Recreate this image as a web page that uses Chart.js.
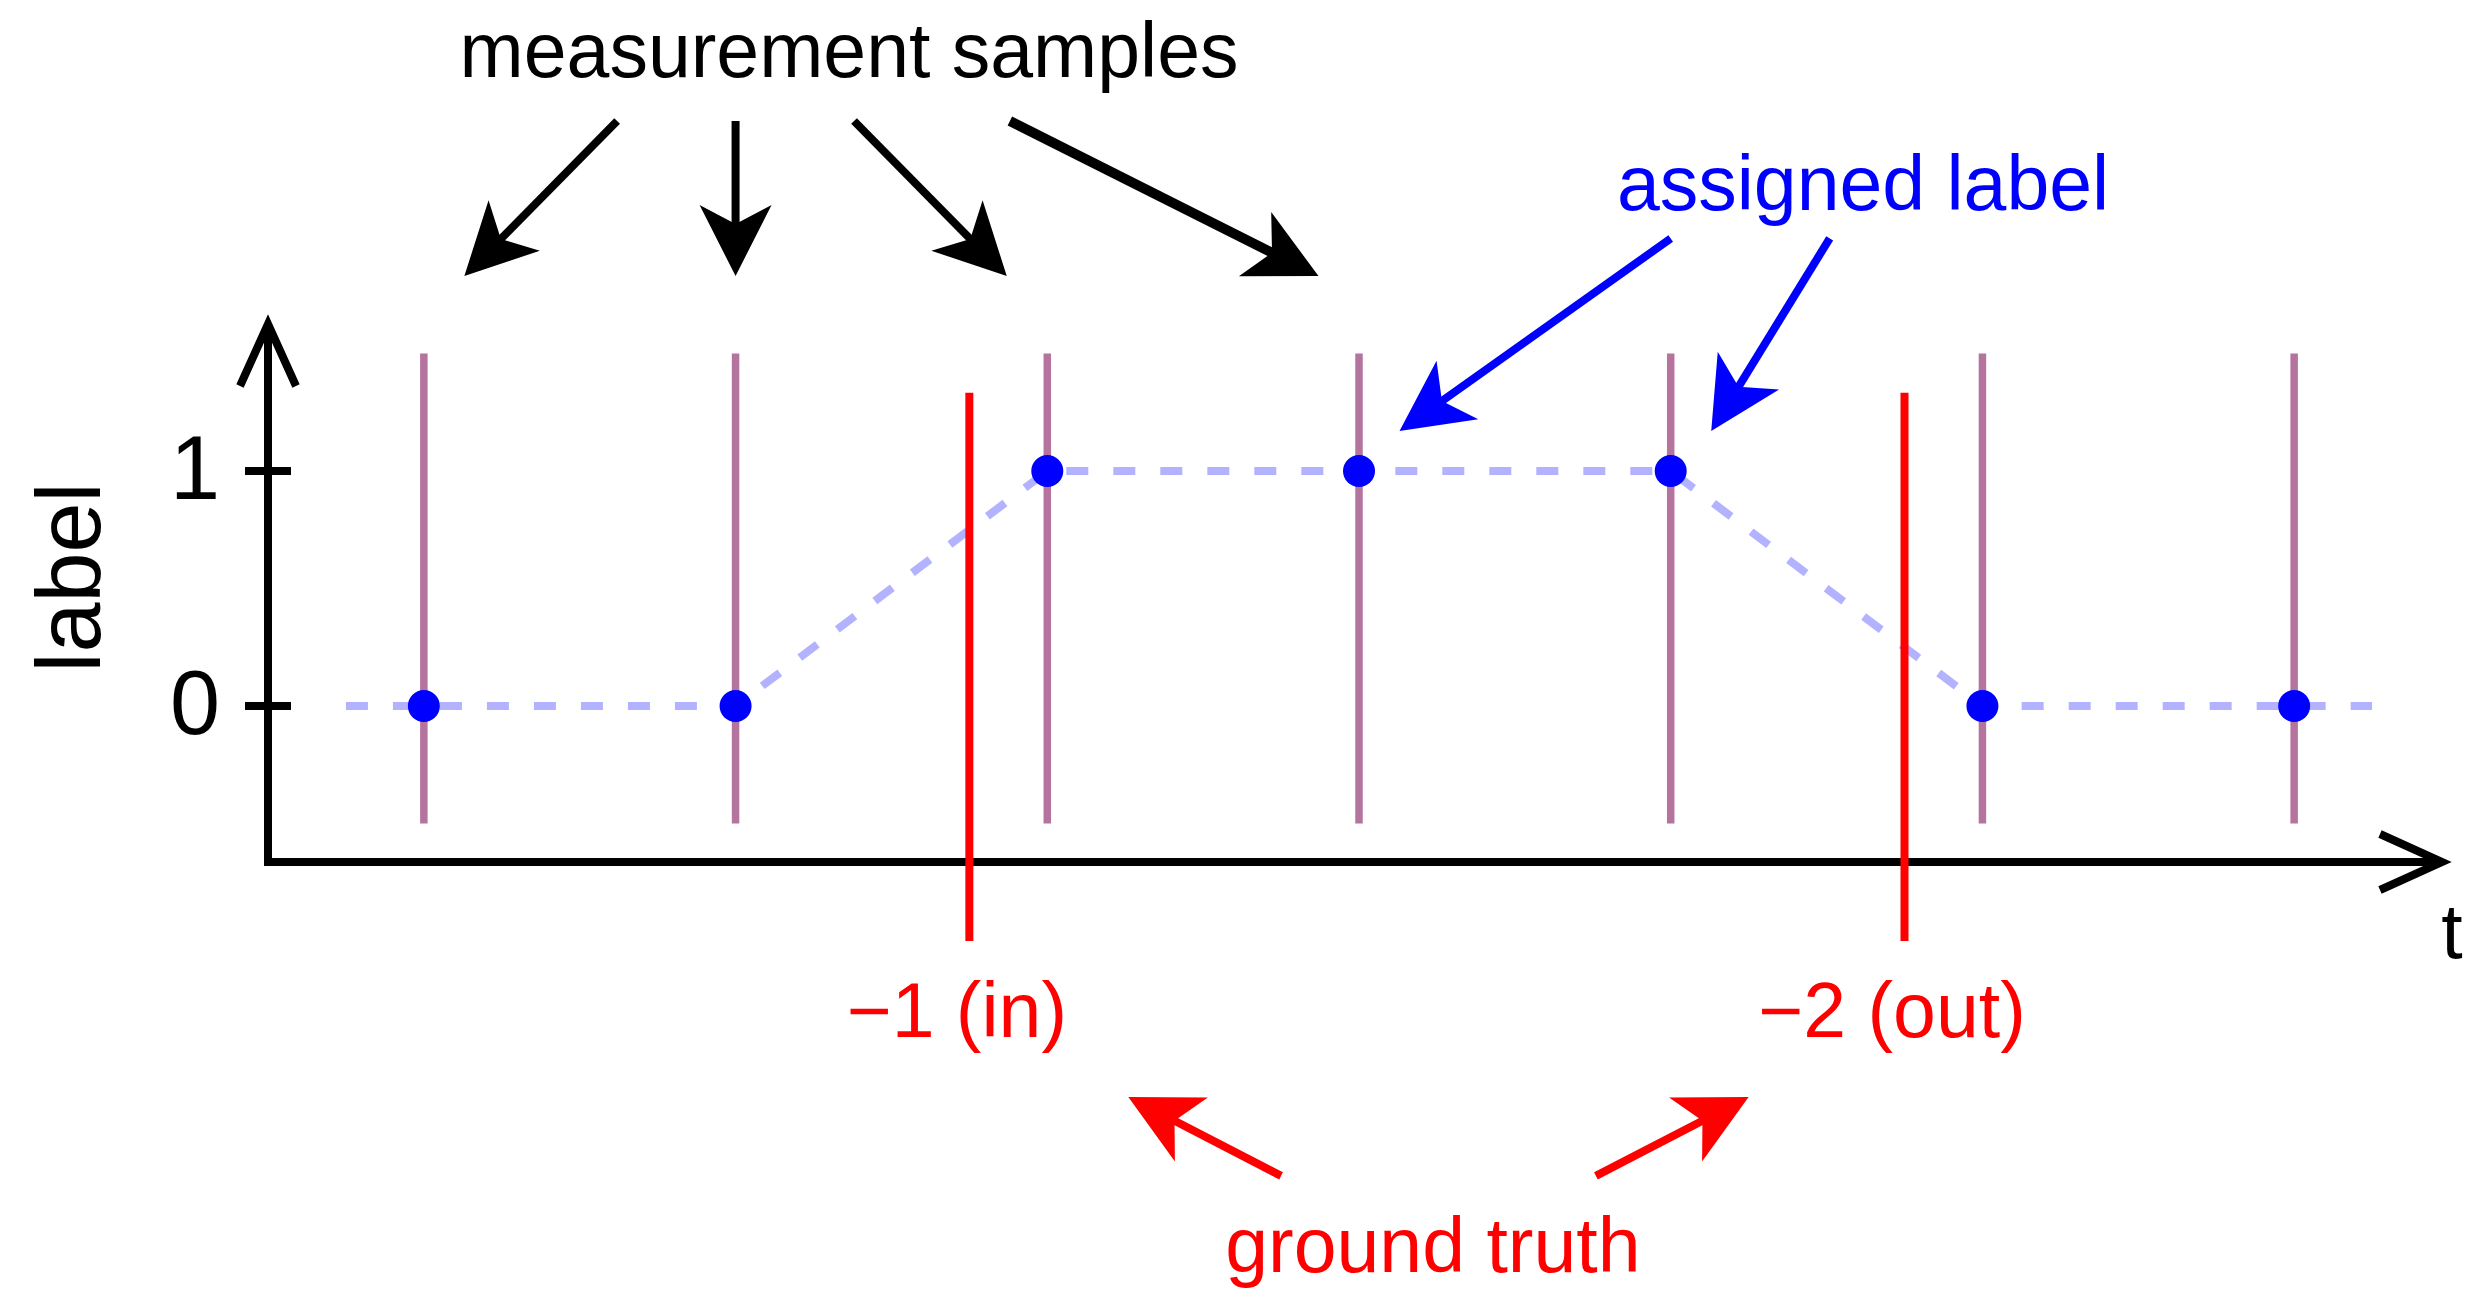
<!DOCTYPE html>
<html>
<head>
<meta charset="utf-8">
<script src="https://cdn.jsdelivr.net/npm/chart.js@4.4.1/dist/chart.umd.min.js"></script>
<style>
html, body { margin:0; padding:0; background:#fff; overflow:hidden; }
canvas { display:block; }
</style>
</head>
<body>
<canvas id="labelChart" width="2487" height="1312"></canvas>
<script>
// measurement samples and the label assigned to each of them
const sampleTimes = [1, 2, 3, 4, 5, 6, 7];
const assignedLabels = [0, 0, 1, 1, 1, 0, 0];

// ground truth events
const truthTimes = [2.75, 5.75];
const truthNames = ["\u22121 (in)", "\u22122 (out)"];

// y axis
const tickValues = [0, 1];
const tickLabels = ["0", "1"];

const FONT = '"Liberation Sans", Arial, Helvetica, sans-serif';
const STEM = [-0.5, 1.5];
const TRUTH_SPAN = [-1, 1.333];
const LINE_PAD = 0.25;

// annotation arrows, in axis units [t, label]
const arrows = [
  {from:[1.62, 2.49], to:[1.13, 1.83], color:"#000", width:8},
  {from:[2.00, 2.49], to:[2.00, 1.83], color:"#000", width:8},
  {from:[2.38, 2.49], to:[2.87, 1.83], color:"#000", width:8},
  {from:[2.88, 2.49], to:[3.87, 1.83], color:"#000", width:10},
  {from:[5.00, 1.99], to:[4.13, 1.17], color:"#0000ff", width:8},
  {from:[5.51, 1.99], to:[5.13, 1.17], color:"#0000ff", width:8},
  {from:[3.75, -2.00], to:[3.26, -1.664], color:"#ff0000", width:8},
  {from:[4.76, -2.00], to:[5.25, -1.664], color:"#ff0000", width:8}
];

const notes = [
  {text:"measurement samples", at:[2.364, 2.677], color:"#000"},
  {text:"assigned label", at:[5.617, 2.111], color:"#0000ff"},
  {text:"ground truth", at:[4.237, -2.409], color:"#ff0000"}
];


function stemData(){
  const out = [];
  sampleTimes.forEach(t => {
    out.push({x:t, y:STEM[0]}, {x:t, y:STEM[1]}, {x:t, y:null});
  });
  return out;
}

function truthData(){
  const out = [];
  truthTimes.forEach(t => {
    out.push({x:t, y:TRUTH_SPAN[0]}, {x:t, y:TRUTH_SPAN[1]}, {x:t, y:null});
  });
  return out;
}

function labelLineData(){
  const pts = sampleTimes.map((t, i) => ({x:t, y:assignedLabels[i]}));
  pts.unshift({x:sampleTimes[0] - LINE_PAD, y:assignedLabels[0]});
  pts.push({x:sampleTimes[sampleTimes.length-1] + LINE_PAD, y:assignedLabels[assignedLabels.length-1]});
  return pts;
}


function toPx(chart, p){
  return [chart.scales.x.getPixelForValue(p[0]), chart.scales.y.getPixelForValue(p[1])];
}

function drawArrow(ctx, from, to, color, width){
  const dx = to[0]-from[0], dy = to[1]-from[1];
  const len = Math.hypot(dx, dy);
  const ux = dx/len, uy = dy/len;
  const px = -uy, py = ux;
  const headLen = 71, headHalf = 36, notch = 52;
  ctx.save();
  ctx.strokeStyle = color;
  ctx.fillStyle = color;
  ctx.lineWidth = width;
  ctx.lineCap = "butt";
  ctx.beginPath();
  ctx.moveTo(from[0], from[1]);
  ctx.lineTo(to[0]-ux*(notch-12), to[1]-uy*(notch-12));
  ctx.stroke();
  ctx.beginPath();
  ctx.moveTo(to[0], to[1]);
  ctx.lineTo(to[0]-ux*headLen+px*headHalf, to[1]-uy*headLen+py*headHalf);
  ctx.lineTo(to[0]-ux*notch, to[1]-uy*notch);
  ctx.lineTo(to[0]-ux*headLen-px*headHalf, to[1]-uy*headLen-py*headHalf);
  ctx.closePath();
  ctx.fill();
  ctx.restore();
}


const axesPlugin = {
  id:"axes",
  beforeDatasetsDraw(chart){
    const ctx = chart.ctx;
    const {left, right, top, bottom} = chart.chartArea;
    const yScale = chart.scales.y;
    ctx.save();
    ctx.strokeStyle = "#000";
    ctx.lineWidth = 8;
    ctx.lineJoin = "miter";
    ctx.lineCap = "butt";

    ctx.beginPath();
    ctx.moveTo(left, top+8);
    ctx.lineTo(left, bottom);
    ctx.lineTo(right-8, bottom);
    ctx.stroke();

    // open arrow heads
    ctx.beginPath();
    ctx.moveTo(left-28, top+70);
    ctx.lineTo(left, top+8);
    ctx.lineTo(left+28, top+70);
    ctx.stroke();
    ctx.beginPath();
    ctx.moveTo(right-70, bottom-28);
    ctx.lineTo(right-8, bottom);
    ctx.lineTo(right-70, bottom+28);
    ctx.stroke();

    // ticks
    ctx.fillStyle = "#000";
    ctx.font = "90px " + FONT;
    ctx.textAlign = "right";
    ctx.textBaseline = "alphabetic";
    tickValues.forEach((v, i) => {
      const y = yScale.getPixelForValue(v);
      ctx.beginPath();
      ctx.moveTo(left-23, y);
      ctx.lineTo(left+23, y);
      ctx.stroke();
      ctx.fillText(tickLabels[i], left-48, y+28);
    });

    // axis titles
    const mid = (yScale.getPixelForValue(tickValues[0]) + yScale.getPixelForValue(tickValues[1]))/2 - 11;
    ctx.save();
    ctx.translate(left-168, mid);
    ctx.rotate(-Math.PI/2);
    ctx.textAlign = "center";
    ctx.fillText("label", 0, 0);
    ctx.restore();

    ctx.font = "77px " + FONT;
    ctx.textAlign = "center";
    ctx.fillText("t", right+2, bottom+96);
    ctx.restore();
  },
  afterDraw(chart){
    const ctx = chart.ctx;
    ctx.save();
    arrows.forEach(a => drawArrow(ctx, toPx(chart, a.from), toPx(chart, a.to), a.color, a.width));

    ctx.font = "77px " + FONT;
    ctx.textAlign = "center";
    ctx.textBaseline = "alphabetic";
    notes.forEach(n => {
      const p = toPx(chart, n.at);
      ctx.fillStyle = n.color;
      ctx.fillText(n.text, p[0], p[1]);
    });
    truthTimes.forEach((t, i) => {
      const p = toPx(chart, [t - 0.04, -1.409]);
      ctx.fillStyle = "#ff0000";
      ctx.fillText(truthNames[i], p[0], p[1]);
    });
    ctx.restore();
  }
};


new Chart(document.getElementById("labelChart"), {

type:"line",

data:{
datasets:[
{
label:"assigned label",
data:sampleTimes.map((t, i) => ({x:t, y:assignedLabels[i]})),
showLine:false,
pointRadius:16,
pointBackgroundColor:"#0000ff",
pointBorderWidth:0,
clip:false,
order:0
},
{
label:"ground truth",
data:truthData(),
borderColor:"#ff0000",
borderWidth:8,
pointRadius:0,
borderCapStyle:"butt",
spanGaps:false,
clip:false,
order:1
},
{
label:"label line",
data:labelLineData(),
borderColor:"rgba(0,0,255,0.3)",
borderWidth:8,
borderDash:[22,25],
borderCapStyle:"butt",
pointRadius:0,
tension:0,
clip:false,
order:2
},
{
label:"samples",
data:stemData(),
borderColor:"rgb(181,116,158)",
borderWidth:7.5,
borderCapStyle:"butt",
pointRadius:0,
spanGaps:false,
clip:false,
order:3
}
]
},

options:{
responsive:false,
animation:false,
devicePixelRatio:1,
events:[],
layout:{ padding:{ left:268, right:37, top:316, bottom:450 } },
scales:{
x:{ type:"linear", min:0.5, max:7.5, display:false },
y:{ type:"linear", min:-0.664, max:1.66, display:false }
},
plugins:{
legend:{ display:false },
tooltip:{ enabled:false }
}
},

plugins:[axesPlugin]

});
</script>
</body>
</html>
